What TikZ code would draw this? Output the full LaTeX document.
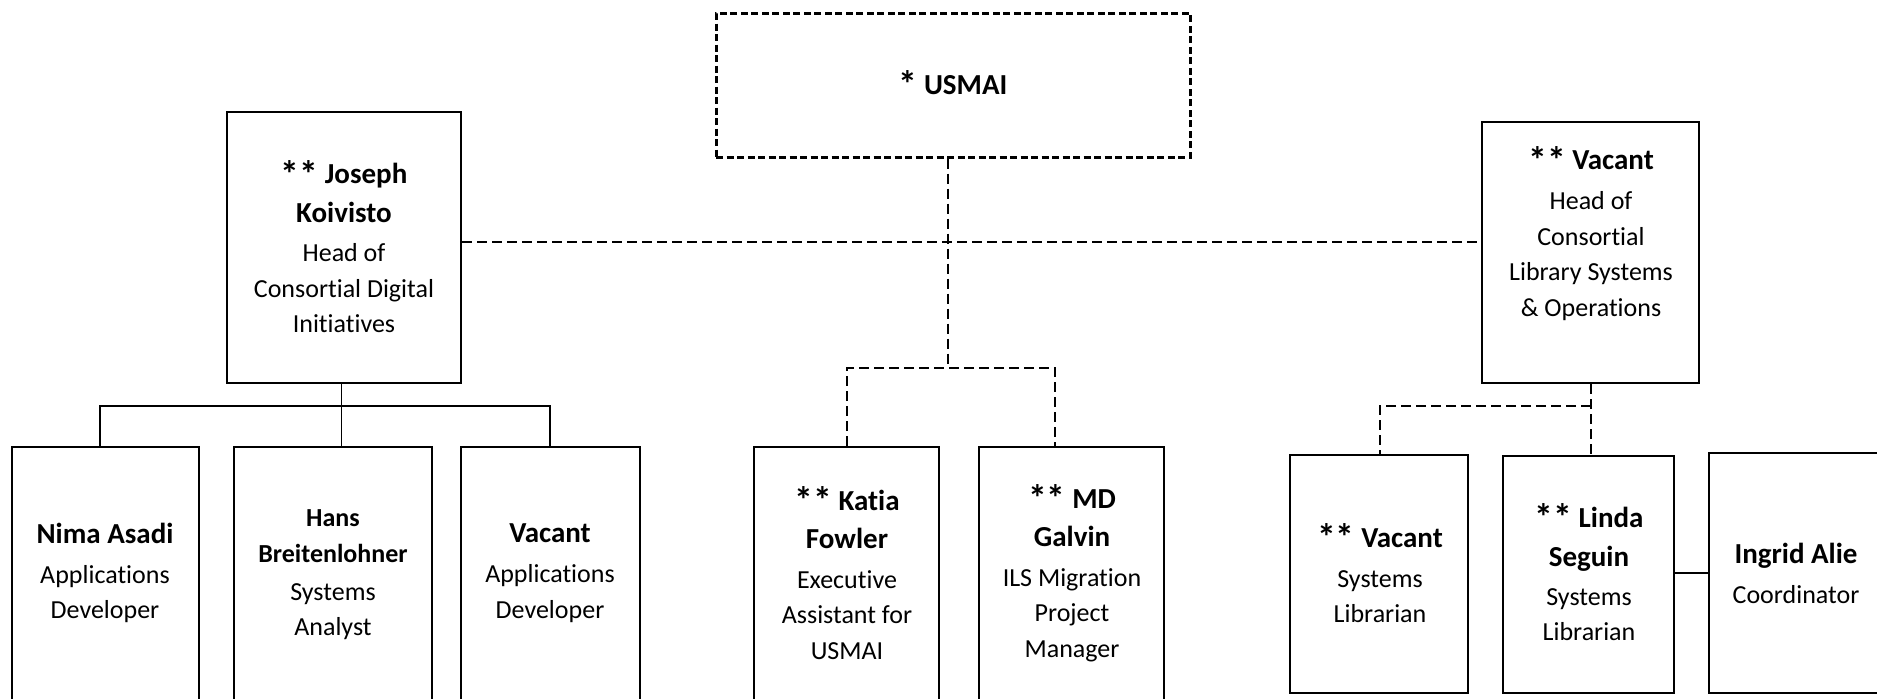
\documentclass[tikz,border=0pt]{standalone}
\usepackage{fontspec}
\setmainfont{Carlito}[Ligatures={NoCommon}]
\usetikzlibrary{calc}
\newcommand\bnm[1]{{\fontsize{14.5pt}{17.75pt}\selectfont\bfseries #1}}
\newcommand\bsm[1]{{\bfseries #1}}
\newcommand\bigstar{\raisebox{-0.12em}{\scalebox{1.3}{*}}}
\begin{document}
\begin{tikzpicture}[x=0.5pt,y=-0.5pt,
  box/.style={draw,line width=1.4pt,inner sep=0pt},
  dbox/.style={draw,line width=1.5pt,inner sep=0pt,dash pattern=on 3.5pt off 1.75pt},
  txt/.style={align=center,font=\fontsize{13pt}{17.75pt}\selectfont,inner sep=0pt},
  conn/.style={line width=0.65pt},
  dconn/.style={line width=0.65pt,dash pattern=on 5pt off 2.5pt}]
\useasboundingbox (0,0) rectangle (1877,698);
\clip (0,0) rectangle (1877,698);

% boxes
\node[dbox,minimum width=237pt,minimum height=72pt] (usmai) at (953,85) {};
\node[box,minimum width=117pt,minimum height=135.5pt] (joseph) at (344,247.5) {};
\node[box,minimum width=108.5pt,minimum height=130.5pt] (vachead) at (1590.5,252.5) {};
\node[box,minimum width=93.5pt,minimum height=136.5pt] (nima) at (105.5,583.5) {};
\node[box,minimum width=99pt,minimum height=136.5pt] (hans) at (333,583.5) {};
\node[box,minimum width=89.5pt,minimum height=136.5pt] (vacdev) at (550.5,583.5) {};
\node[box,minimum width=92.5pt,minimum height=136.5pt] (katia) at (846.5,583.5) {};
\node[box,minimum width=92.5pt,minimum height=136.5pt] (md) at (1071.5,583.5) {};
\node[box,minimum width=89pt,minimum height=119pt] (vacsl) at (1379,574) {};
\node[box,minimum width=85.5pt,minimum height=118.5pt] (linda) at (1588.5,574.5) {};
\node[box,minimum width=95.5pt,minimum height=120pt] (ingrid) at (1804.5,573) {};

% texts
\node[txt] (t-usmai) at (953,84) {\bnm{\bigstar{} USMAI}};
\node[txt] (t-joseph) at (344,246.5) {\bnm{\bigstar\bigstar{} Joseph}\\[1.75pt]\bnm{Koivisto}\\[1.75pt]Head of\\Consortial Digital\\Initiatives};
\node[txt] (t-vachead) at (1591,233.5) {\bnm{\bigstar\bigstar{} Vacant}\\[2.25pt]Head of\\Consortial\\Library Systems\\\& Operations};
\node[txt] (t-nima) at (105,573) {\bnm{Nima Asadi}\\[2.25pt]Applications\\Developer};
\node[txt] (t-hans) at (333,574.5) {\bsm{Hans}\\[0.25pt]\bsm{Breitenlohner}\\[1.25pt]Systems\\Analyst};
\node[txt] (t-vacdev) at (550,573) {\bnm{Vacant}\\[2.25pt]Applications\\Developer};
\node[txt] (t-katia) at (847,573) {\bnm{\bigstar\bigstar{} Katia}\\[1.25pt]\bnm{Fowler}\\[2.25pt]Executive\\Assistant for\\USMAI};
\node[txt] (t-md) at (1072,573) {\bnm{\bigstar\bigstar{} MD}\\[1.25pt]\bnm{Galvin}\\[2.25pt]ILS Migration\\Project\\Manager};
\node[txt] (t-vacsl) at (1380,573.5) {\bnm{\bigstar\bigstar{} Vacant}\\[2.25pt]Systems\\Librarian};
\node[txt] (t-linda) at (1589,572.5) {\bnm{\bigstar\bigstar{} Linda}\\[1.75pt]\bnm{Seguin}\\[1.75pt]Systems\\Librarian};
\node[txt] (t-ingrid) at (1796,573) {\bnm{Ingrid Alie}\\[2.25pt]Coordinator};

% junction coordinates
\coordinate (hl) at (0,242);
\coordinate (usj) at (948,368);
\coordinate (katj) at (847,368);
\coordinate (mdj) at (1055,368);
\coordinate (lj) at (341.5,406);
\coordinate (lnima) at (100,406);
\coordinate (lvac) at (550,406);
\coordinate (rj) at (1591,406);
\coordinate (rsl) at (1380,406);
\coordinate (li) at (0,573);

% connectors
\draw[dconn] (joseph.east |- hl) -- (vachead.west |- hl);
\draw[dconn] (usmai.south -| usj) -- (usj);
\draw[dconn] (katia.north -| katj) -- (katj) -- (mdj) -- (md.north -| mdj);
\draw[conn] (joseph.south -| lj) -- (hans.north -| lj);
\draw[conn] (nima.north -| lnima) -- (lnima) -- (lvac) -- (vacdev.north -| lvac);
\draw[dconn] (vachead.south -| rj) -- (linda.north -| rj);
\draw[dconn] (rj) -- (rsl) -- (vacsl.north -| rsl);
\draw[conn] (linda.east |- li) -- (ingrid.west |- li);
\end{tikzpicture}
\end{document}
